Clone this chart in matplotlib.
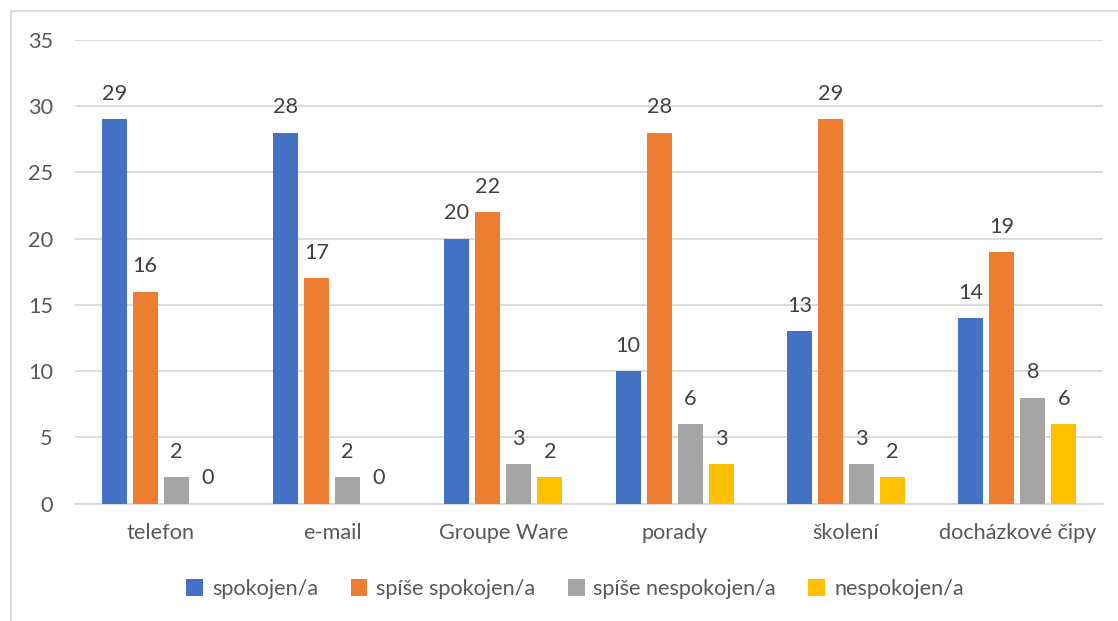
import matplotlib
matplotlib.use("Agg")
import matplotlib.pyplot as plt
import numpy as np
from matplotlib.lines import Line2D

categories = ["telefon", "e-mail", "Groupe Ware", "porady", "školení", "docházkové čipy"]
series_names = ["spokojen/a", "spíše spokojen/a", "spíše nespokojen/a", "nespokojen/a"]
spokojen = [29, 28, 20, 10, 13, 14]
spise_spokojen = [16, 17, 22, 28, 29, 19]
spise_nespokojen = [2, 2, 3, 6, 3, 8]
nespokojen = [0, 0, 2, 3, 2, 6]
colors = ["#4472C4", "#ED7D31", "#A5A5A5", "#FFC000"]
yticks = [0, 5, 10, 15, 20, 25, 30, 35]

plt.rcParams['font.family'] = ['Lato', 'DejaVu Sans']
FS = 15.6

W, H = 1118, 621
fig = plt.figure(figsize=(W / 100, H / 100), dpi=100)
ax = fig.add_axes([75 / W, 1 - 503.5 / H, (1103 - 75) / W, (503.5 - 40) / H])

x = np.arange(len(categories))
step = 0.181
width = 0.147
data = [spokojen, spise_spokojen, spise_nespokojen, nespokojen]
for i, (vals, c, name) in enumerate(zip(data, colors, series_names)):
    pos = x + (i - 1.5) * step
    ax.bar(pos, vals, width=width, color=c, label=name, zorder=3)
    for p, v in zip(pos, vals):
        ax.text(p, v + 1.15, str(v), ha='center', va='bottom', fontsize=FS, color='#404040')

ax.set_xlim(-0.5, len(categories) - 0.5)
ax.set_ylim(0, 35)
ax.set_yticks(yticks)
ax.set_xticks(x)
ax.set_xticklabels(categories)
ax.yaxis.grid(True, color='#D9D9D9', linewidth=1.3, zorder=0)
ax.set_axisbelow(True)
for s in ['top', 'right', 'left']:
    ax.spines[s].set_visible(False)
ax.spines['bottom'].set_color('#D9D9D9')
ax.spines['bottom'].set_linewidth(1.3)
ax.tick_params(axis='both', length=0, labelsize=FS, labelcolor='#595959')
ax.tick_params(axis='y', pad=16)
ax.tick_params(axis='x', pad=14)

leg = fig.legend(loc='center', bbox_to_anchor=(575 / W, 1 - 589 / H), ncol=4, frameon=False,
                 fontsize=FS, handlelength=0.78, handleheight=0.78, columnspacing=1.5, handletextpad=0.4)
for t in leg.get_texts():
    t.set_color('#595959')

fig.add_artist(Line2D([11 / W, 11 / W], [0, 1 - 11 / H], color='#D9D9D9', linewidth=1.3, transform=fig.transFigure))
fig.add_artist(Line2D([11 / W, 1], [1 - 11 / H, 1 - 11 / H], color='#D9D9D9', linewidth=1.3, transform=fig.transFigure))

fig.savefig("out.png", dpi=100)
